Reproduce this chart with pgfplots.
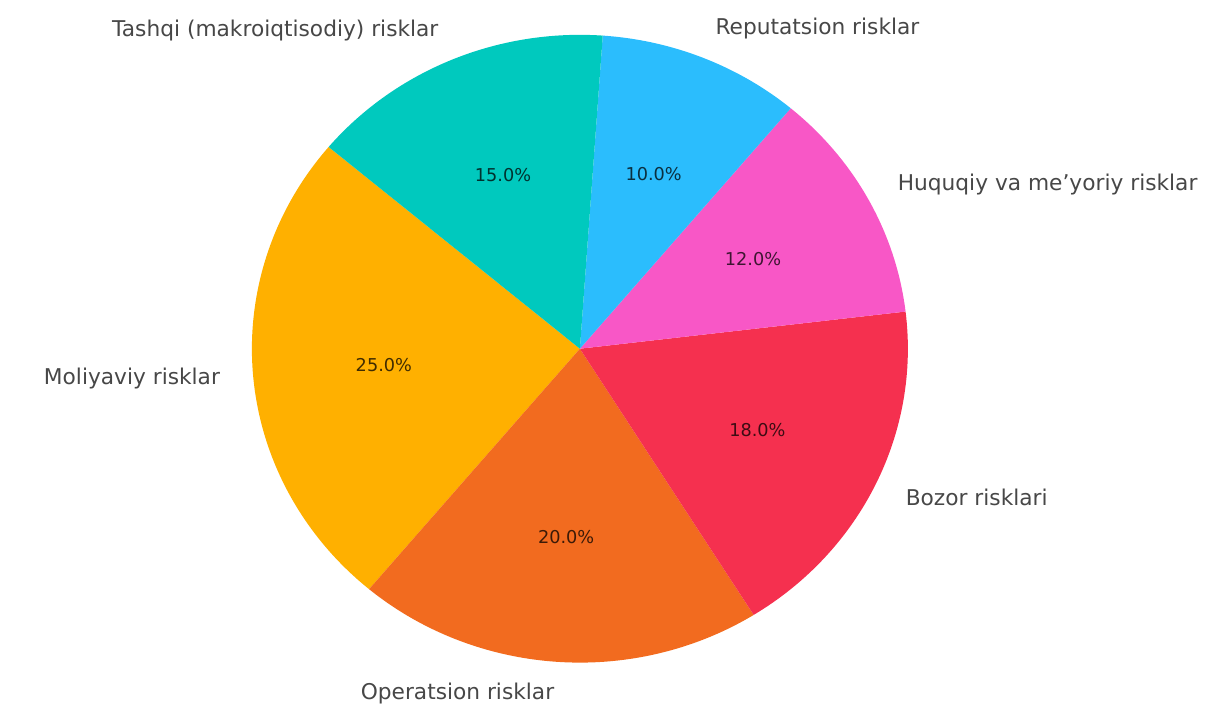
\documentclass[border=0pt]{standalone}
\usepackage{fontspec}
\setmainfont{DejaVu Sans}
\usepackage{pgfplots}
\pgfplotsset{compat=1.18}

\definecolor{cMol}{HTML}{FFB000}
\definecolor{cOpe}{HTML}{F26B1F}
\definecolor{cBoz}{HTML}{F5304F}
\definecolor{cHuq}{HTML}{F857C6}
\definecolor{cRep}{HTML}{2BBDFD}
\definecolor{cTas}{HTML}{00C9BE}

% pie drawn counter-clockwise from 140 degrees
\newcommand\curang{140}
\newcommand\slice[3]{% value, colour, label
  \pgfmathsetmacro\sa{\curang}
  \pgfmathsetmacro\sb{\curang+3.6*#1}
  \pgfmathsetmacro\sm{(\sa+\sb)/2}
  \pgfmathsetmacro\sc{cos(\sm)}
  \ifdim\sc pt<0pt \def\anc{east}\else\def\anc{west}\fi
  \edef\temp{%
    \noexpand\fill[#2] (axis cs:0,0) -- (axis cs:{cos(\sa)},{sin(\sa)})
      arc[start angle=\sa, end angle=\sb, x radius=4.3cm, y radius=4.115cm] -- cycle;
    \noexpand\node[pct] at (axis cs:{0.6*cos(\sm)},{0.6*sin(\sm)})
      {\noexpand\pgfmathprintnumber[fixed,fixed zerofill,precision=1,assume math mode=true]{#1}\noexpand\%};
    \noexpand\node[lbl,anchor=\anc] at (axis cs:{1.1*cos(\sm)},{1.1*sin(\sm)}) {#3};
  }\temp
  \xdef\curang{\sb}%
}

\begin{document}
\begin{tikzpicture}[
  pct/.style={font=\fontsize{6.6}{8}\selectfont, text=black, text opacity=0.75, inner sep=0pt},
  lbl/.style={font=\fontsize{8.1}{10}\selectfont, text=black!72, inner sep=0pt},
]
\begin{axis}[
  x=4.3cm, y=4.115cm,
  xmin=-1.768, xmax=1.915,
  ymin=-1.134, ymax=1.111,
  hide axis, clip=false,
]
\path (rel axis cs:0,0) rectangle (rel axis cs:1,1);
\slice{25}{cMol}{Moliyaviy risklar}
\slice{20}{cOpe}{Operatsion risklar}
\slice{18}{cBoz}{Bozor risklari}
\slice{12}{cHuq}{Huquqiy va me’yoriy risklar}
\slice{10}{cRep}{Reputatsion risklar}
\slice{15}{cTas}{Tashqi (makroiqtisodiy) risklar}
\end{axis}
\end{tikzpicture}
\end{document}
